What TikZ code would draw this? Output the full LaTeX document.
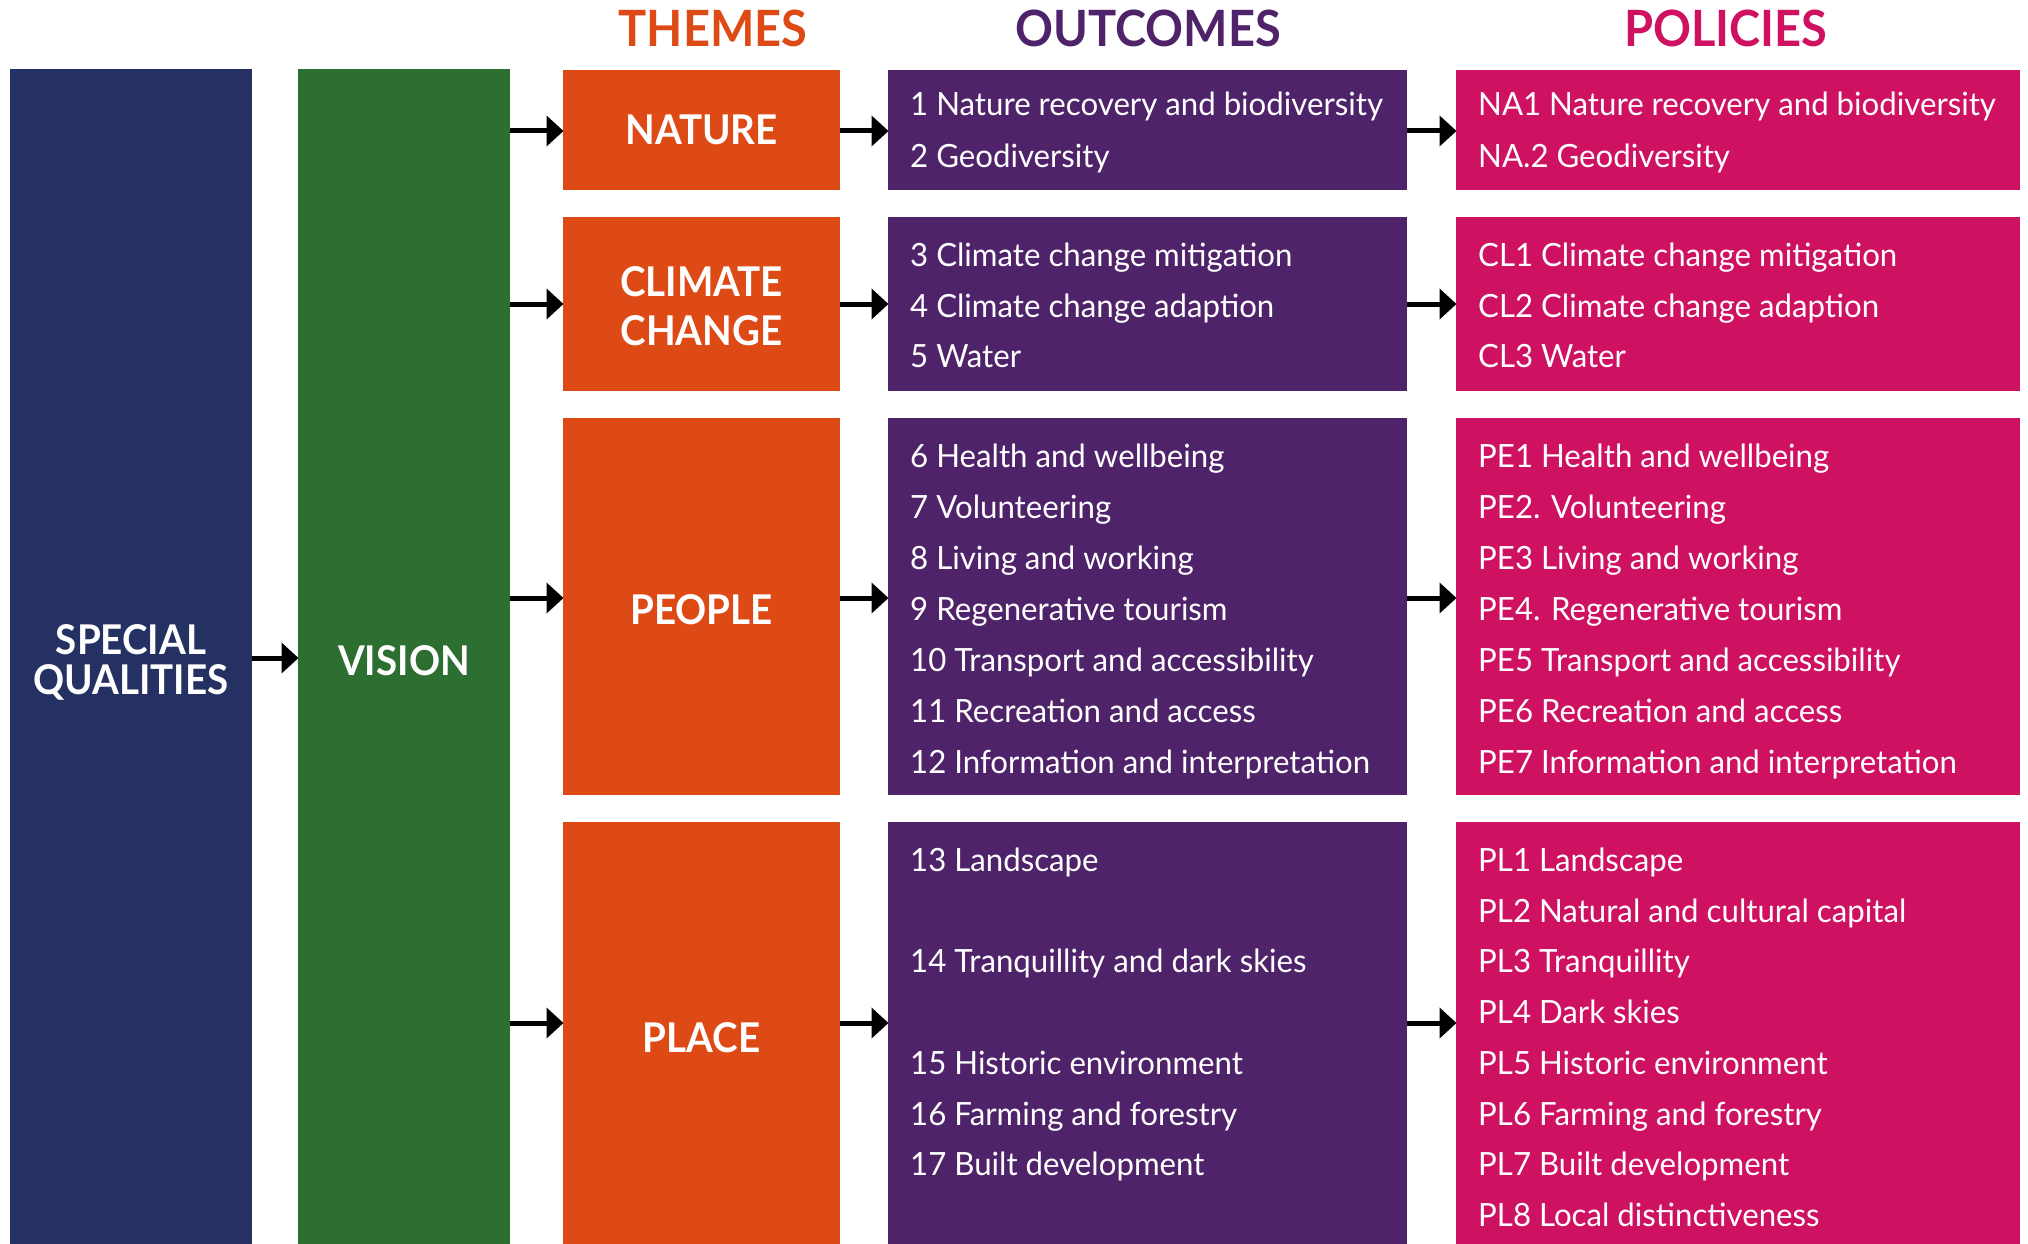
\documentclass[tikz,border=0pt]{standalone}
\usepackage{fontspec}
\setmainfont{Lato}[FakeStretch=0.975]
\newfontfamily\hdrfont{Lato}[FakeStretch=0.94]
\usetikzlibrary{arrows.meta}
\definecolor{sqblue}{HTML}{253063}
\definecolor{visgreen}{HTML}{2D6F31}
\definecolor{thorange}{HTML}{DD4A15}
\definecolor{oupurple}{HTML}{4F2369}
\definecolor{pomagenta}{HTML}{CE1161}
\tikzset{
  blk/.style={draw=none, inner sep=0pt, outer sep=0pt},
  lbl/.style={inner sep=0pt, text=white, align=center,
    font=\hdrfont\fontsize{41}{49}\selectfont\bfseries},
  item/.style={anchor=base west, inner sep=0pt, text=white, font=\fontsize{32}{40}\selectfont},
  hdr/.style={anchor=base, inner sep=0pt, font=\hdrfont\fontsize{50}{50}\selectfont\bfseries},
  arr/.style={line width=5pt, -{Triangle[length=17pt,width=30pt]}, shorten >=-0.5pt}
}
\begin{document}
\begin{tikzpicture}[x=1pt,y=-1pt]
\useasboundingbox (0,0) rectangle (2028,1244);
\fill[white] (0,0) rectangle (2028,1244);

% headers
\node[hdr, text=thorange] (hthemes) at (713,47) {THEMES};
\node[hdr, text=oupurple] (houtcomes) at (1148,47) {OUTCOMES};
\node[hdr, text=pomagenta] (hpolicies) at (1726,47) {POLICIES};

% first two columns
\node[blk, fill=sqblue, minimum width=242pt, minimum height=1175pt] (sq) at (131,656.5) {};
\node[lbl, font=\hdrfont\fontsize{41}{40}\selectfont\bfseries] (sqlbl) at (131,662) {SPECIAL\\QUALITIES};
\node[blk, fill=visgreen, minimum width=212pt, minimum height=1175pt] (vis) at (404,656.5) {};
\node[lbl] (vislbl) at (404,661) {VISION};

% themes
\node[blk, fill=thorange, minimum width=277pt, minimum height=120pt] (tna) at (701.5,130) {};
\node[lbl] (tnalbl) at (701.5,129.5) {NATURE};
\node[blk, fill=thorange, minimum width=277pt, minimum height=174pt] (tcl) at (701.5,304) {};
\node[lbl] (tcllbl) at (701.5,306) {CLIMATE\\CHANGE};
\node[blk, fill=thorange, minimum width=277pt, minimum height=377pt] (tpe) at (701.5,606.5) {};
\node[lbl] (tpelbl) at (701.5,609.5) {PEOPLE};
\node[blk, fill=thorange, minimum width=277pt, minimum height=422pt] (tpl) at (701.5,1033) {};
\node[lbl] (tpllbl) at (701.5,1038) {PLACE};

% outcomes
\node[blk, fill=oupurple, minimum width=519pt, minimum height=120pt] (ona) at (1147.5,130) {};
\node[blk, fill=oupurple, minimum width=519pt, minimum height=174pt] (ocl) at (1147.5,304) {};
\node[blk, fill=oupurple, minimum width=519pt, minimum height=377pt] (ope) at (1147.5,606.5) {};
\node[blk, fill=oupurple, minimum width=519pt, minimum height=422pt] (opl) at (1147.5,1033) {};

% policies
\node[blk, fill=pomagenta, minimum width=564pt, minimum height=120pt] (pna) at (1738,130) {};
\node[blk, fill=pomagenta, minimum width=564pt, minimum height=174pt] (pcl) at (1738,304) {};
\node[blk, fill=pomagenta, minimum width=564pt, minimum height=377pt] (ppe) at (1738,606.5) {};
\node[blk, fill=pomagenta, minimum width=564pt, minimum height=422pt] (ppl) at (1738,1033) {};

% outcome items
\foreach \n/\yy/\t in {1/116/1 Nature recovery and biodiversity, 2/167/2 Geodiversity,
  3/266/3 Climate change mitigation, 4/317/4 Climate change adaption, 5/367/5 Water,
  6/467/6 Health and wellbeing, 7/518/7 Volunteering, 8/569/8 Living and working,
  9/620/9 Regenerative tourism, 10/671/10 Transport and accessibility,
  11/722/11 Recreation and access, 12/773/12 Information and interpretation,
  13/871/13 Landscape, 14/972/14 Tranquillity and dark skies,
  15/1074/15 Historic environment, 16/1125/16 Farming and forestry, 17/1175/17 Built development}
  {\node[item] (o\n) at (910,\yy) {\t};}

% policy items
\foreach \n/\yy/\t in {na1/116/NA1 Nature recovery and biodiversity, na2/167/NA.2 Geodiversity,
  cl1/266/CL1 Climate change mitigation, cl2/317/CL2 Climate change adaption, cl3/367/CL3 Water,
  pe1/467/PE1 Health and wellbeing, pe2/518/PE2. Volunteering, pe3/569/PE3 Living and working,
  pe4/620/PE4. Regenerative tourism, pe5/671/PE5 Transport and accessibility,
  pe6/722/PE6 Recreation and access, pe7/773/PE7 Information and interpretation,
  pl1/871/PL1 Landscape, pl2/922/PL2 Natural and cultural capital, pl3/972/PL3 Tranquillity,
  pl4/1023/PL4 Dark skies, pl5/1074/PL5 Historic environment, pl6/1125/PL6 Farming and forestry,
  pl7/1175/PL7 Built development, pl8/1226/PL8 Local distinctiveness}
  {\node[item] (\n) at (1478,\yy) {\t};}

% arrow heights
\coordinate (ysq) at (0,658);
\coordinate (yna) at (0,131);
\coordinate (ycl) at (0,304);
\coordinate (ype) at (0,598);
\coordinate (ypl) at (0,1023);

\draw[arr] (sq.east |- ysq) -- (vis.west |- ysq);
\foreach \r in {na,cl,pe,pl}{
  \draw[arr] (vis.east |- y\r) -- (t\r.west |- y\r);
  \draw[arr] (t\r.east |- y\r) -- (o\r.west |- y\r);
  \draw[arr] (o\r.east |- y\r) -- (p\r.west |- y\r);
}
\end{tikzpicture}
\end{document}
